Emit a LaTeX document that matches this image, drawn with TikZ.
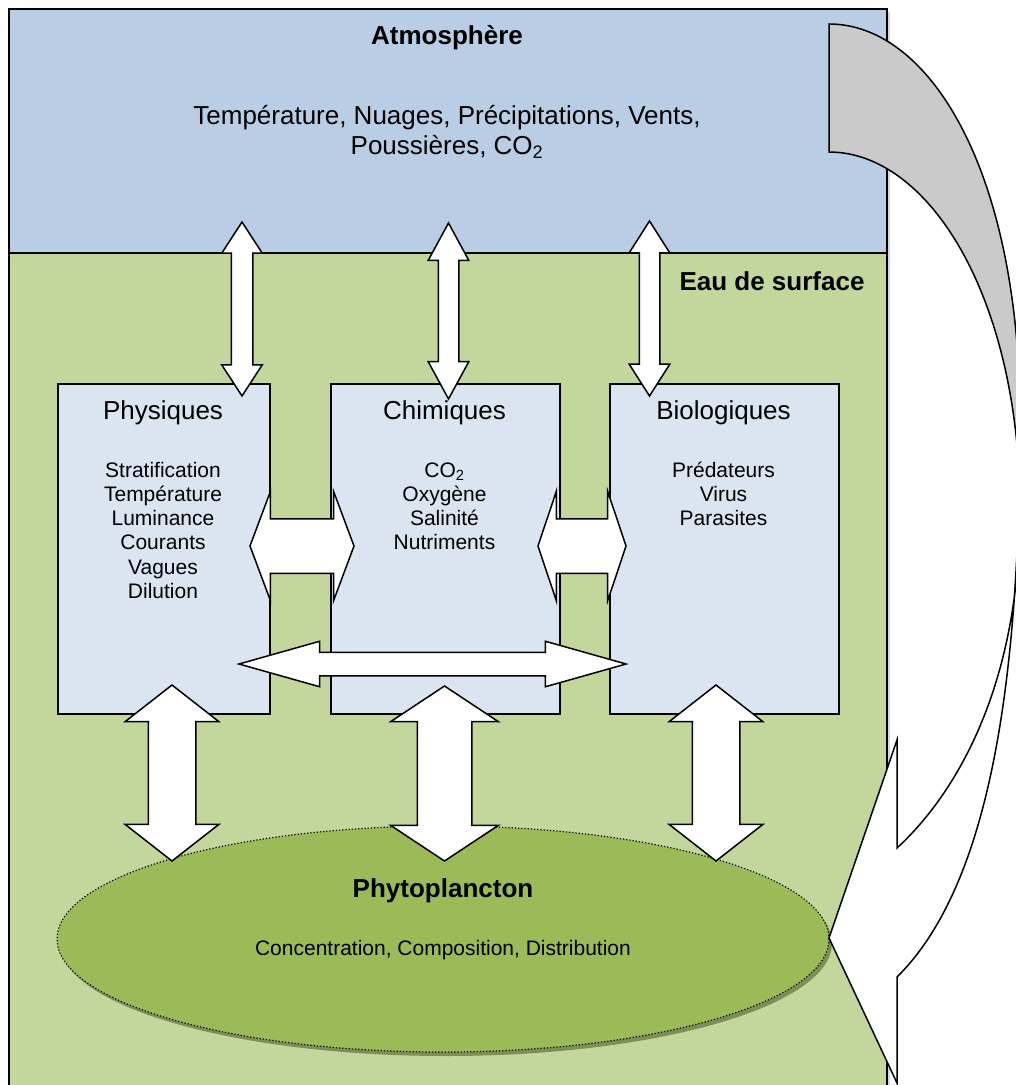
\documentclass[tikz,border=0pt]{standalone}
\usepackage{fontspec}
\setmainfont{Liberation Sans}
\usepackage{tikz}
\usetikzlibrary{shapes.arrows,shapes.geometric,shadows}

\definecolor{atmblue}{HTML}{B9CDE5}
\definecolor{eaugreen}{HTML}{C3D69B}
\definecolor{boxblue}{HTML}{DBE5F1}
\definecolor{phytogreen}{HTML}{9BBB59}
\definecolor{phytoshadow}{HTML}{7D8F55}
\definecolor{bendgrey}{HTML}{CACACA}

\newcommand\bendpath{(829,24) .. controls (930,24) and (1020,172) .. (1020,420)
  .. controls (1020,700) and (985,890) .. (897,977) -- (897,1083) -- (829,938)
  -- (897,740) -- (897,848) .. controls (960,790) and (1020,680) .. (1020,510)
  .. controls (1020,300) and (930,152) .. (829,152) -- cycle}

\begin{document}
\begin{tikzpicture}[x=1pt, y=-1pt,
  zone/.style={draw, line width=1.5pt, inner sep=0pt, anchor=north west},
  factor/.style={zone, fill=boxblue, minimum height=330pt},
  head/.style={font=\fontsize{26}{30}\selectfont, anchor=base},
  item/.style={font=\fontsize{21}{25}\selectfont, anchor=base},
  twoway/.style={double arrow, draw, fill=white, line width=1.5pt, inner sep=0pt,
                 text depth=0pt, text height=#1},
  twoway/.default=20pt]

   \useasboundingbox (0,0) rectangle (1016,1085);
   \clip (0,0) rectangle (1016,1085);

   % zones
   \node[zone, fill=atmblue, minimum width=878pt, minimum height=244pt,
         drop shadow={shadow xshift=3pt, shadow yshift=-3pt, fill=gray!60}] (atm) at (8,8) {};
   \node[zone, fill=eaugreen, minimum width=878pt, minimum height=834pt,
         drop shadow={shadow xshift=3pt, shadow yshift=-3pt, fill=gray!60}] (eau) at (8,252) {};

   \node[factor, minimum width=212pt] (phys) at (57,383) {};
   \node[factor, minimum width=229pt] (chim) at (330,383) {};
   \node[factor, minimum width=229pt] (bio) at (609,383) {};

   \node[ellipse, fill=phytoshadow, minimum width=772pt, minimum height=226pt, inner sep=0pt] at (446,943) {};
   \node[ellipse, draw, dotted, line width=1.2pt, fill=phytogreen, minimum width=772pt,
         minimum height=226pt, inner sep=0pt] (phyto) at (443,939) {};

   % texts
   \node[head] (atmtitle) at (447,44) {\bfseries Atmosphère};
   \node[head] (atmline1) at (447,124) {Température, Nuages, Précipitations, Vents,};
   \node[head] (atmline2) at (447,154) {Poussières, CO\textsubscript{2}};
   \node[head] (eautitle) at (772,290) {\bfseries Eau de surface};

   \node[head] (physhead) at (163,419) {Physiques};
   \node[head] (chimhead) at (444.5,419) {Chimiques};
   \node[head] (biohead) at (723.5,419) {Biologiques};

   \foreach \t [count=\i from 0] in {Stratification, Température, Luminance, Courants, Vagues, Dilution}
     \node[item] (phys\i) at (163,477+24.3*\i) {\t};
   \foreach \t [count=\i from 0] in {{CO\textsubscript{2}}, Oxygène, Salinité, Nutriments}
     \node[item] (chim\i) at (444.5,477+24.3*\i) {\t};
   \foreach \t [count=\i from 0] in {Prédateurs, Virus, Parasites}
     \node[item] (bio\i) at (723.5,477+24.3*\i) {\t};

   \node[head] (phytotitle) at (443,897) {\bfseries Phytoplancton};
   \node[item] (phytotext) at (443,955) {Concentration, Composition, Distribution};

   % exchanges
   \node[twoway=20pt, rotate=90, minimum height=174pt, minimum width=39pt,
         double arrow head extend=9.5pt, double arrow tip angle=66] (up1) at (242,309) {};
   \node[twoway=19pt, rotate=90, minimum height=176pt, minimum width=39pt,
         double arrow head extend=10pt, double arrow tip angle=57] (up2) at (448.5,311) {};
   \node[twoway=19pt, rotate=90, minimum height=175pt, minimum width=39pt,
         double arrow head extend=10pt, double arrow tip angle=65] (up3) at (649.5,308.5) {};

   \node[twoway=53pt, minimum height=104pt, minimum width=108pt,
         double arrow head extend=27.5pt, double arrow tip angle=139] (side1) at (302,546) {};
   \node[twoway=53pt, minimum height=88pt, minimum width=108pt,
         double arrow head extend=27.5pt, double arrow tip angle=143] (side2) at (582,546) {};
   \node[twoway=22pt, minimum height=387pt, minimum width=44pt,
         double arrow head extend=11pt, double arrow tip angle=31.5] (across) at (432.5,664) {};

   \node[twoway=46pt, rotate=90, minimum height=176pt, minimum width=92pt,
         double arrow head extend=23pt, double arrow tip angle=104] (down1) at (172,773) {};
   \node[twoway=53pt, rotate=90, minimum height=175pt, minimum width=106pt,
         double arrow head extend=26.5pt, double arrow tip angle=113] (down2) at (444.5,773.5) {};
   \node[twoway=46pt, rotate=90, minimum height=176pt, minimum width=92pt,
         double arrow head extend=23pt, double arrow tip angle=104] (down3) at (716,773) {};

   % feedback to the atmosphere
   \path[fill=white] \bendpath;
   \begin{scope}
     \clip (800,0) rectangle (1016,520);
     \path[fill=bendgrey] \bendpath;
   \end{scope}
   \draw[line width=1.5pt, line join=miter] \bendpath;
\end{tikzpicture}
\end{document}
